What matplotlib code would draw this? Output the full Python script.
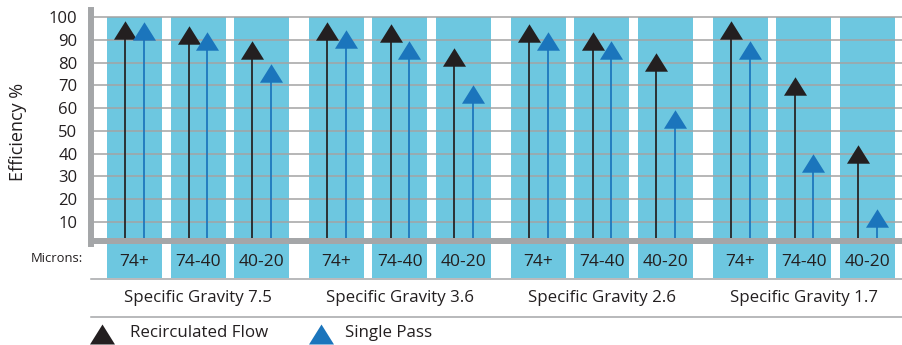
import matplotlib
matplotlib.use("Agg")
import matplotlib.pyplot as plt
from matplotlib.path import Path
from matplotlib.lines import Line2D

plt.rcParams['font.family'] = ['Open Sans', 'DejaVu Sans']

# --- data -------------------------------------------------------------
groups = ["Specific Gravity 7.5", "Specific Gravity 3.6",
          "Specific Gravity 2.6", "Specific Gravity 1.7"]
sizes = ["74+", "74-40", "40-20"]
recirculated = [94.4, 92.1, 85.6,
                94.0, 93.2, 82.5,
                93.2, 89.5, 80.2,
                94.2, 69.7, 39.9]
single_pass = [94.0, 89.5, 75.3,
               90.5, 85.4, 66.3,
               89.5, 85.4, 55.3,
               85.4, 35.8, 11.6]
yticks = [10, 20, 30, 40, 50, 60, 70, 80, 90, 100]

# --- style ------------------------------------------------------------
COL_BAND = "#6dc7e0"
COL_BLACK = "#231f20"
COL_BLUE = "#1b75bc"
COL_AXIS = "#a4a6a8"
COL_GRID = "#a3a3a3"
TXT = "#231f20"

W, H = 903, 345
fig = plt.figure(figsize=(W / 100, H / 100), dpi=100)

# axes placed in pixel terms
left_px, right_px = 90.7, 903.0
top_px, bottom_px = 10.5, 344.2
ax = fig.add_axes([left_px / W, 1 - bottom_px / H,
                   (right_px - left_px) / W, (bottom_px - top_px) / H])

group_pitch = 3.18
bar_w = 0.866
offset = 0.147

xs = []
for g in range(len(groups)):
    for c in range(len(sizes)):
        xs.append(g * group_pitch + c)

ax.set_xlim(-0.69, 12.10)
ax.set_ylim(-44, 103)

# light blue column bands, running down through the size-label row
ax.bar(xs, 115, bottom=-15, width=bar_w, color=COL_BAND, zorder=1)

# horizontal grid over the bands
ax.set_yticks(yticks)
ax.set_yticklabels([str(t) for t in yticks], fontsize=12, color=TXT)
ax.tick_params(axis='y', length=0, pad=9.5)
ax.set_xticks([])
ax.yaxis.grid(True, color=COL_GRID, lw=1.1)
ax.set_axisbelow('line')

# lollipop markers
tri = Path([(-1.0, -0.8), (1.0, -0.8), (0.0, 0.8), (-1.0, -0.8)],
           [Path.MOVETO, Path.LINETO, Path.LINETO, Path.CLOSEPOLY])

for x, r, s in zip(xs, recirculated, single_pass):
    ax.plot([x - offset, x - offset], [0, r], color=COL_BLACK, lw=1.25, zorder=2,
            solid_capstyle='butt')
    ax.plot([x + offset, x + offset], [0, s], color=COL_BLUE, lw=1.25, zorder=2,
            solid_capstyle='butt')
ax.plot([x - offset for x in xs], recirculated, ls='none', marker=tri,
        ms=16.6, color=COL_BLACK, mec='none', zorder=3)
ax.plot([x + offset for x in xs], single_pass, ls='none', marker=tri,
        ms=16.6, color=COL_BLUE, mec='none', zorder=3)

# thick base line and left axis
ax.axhspan(0, 2.6, color=COL_AXIS, lw=0, zorder=4)
for side in ['top', 'right', 'bottom']:
    ax.spines[side].set_visible(False)
ax.spines['left'].set_color(COL_AXIS)
ax.spines['left'].set_linewidth(4.3)
ax.spines['left'].set_bounds(0, 103)

# separators below the size labels and group names
ax.axhline(-15.3, color=COL_AXIS, lw=1.1, zorder=4, clip_on=False)
ax.axhline(-31.9, color=COL_AXIS, lw=1.1, zorder=4, clip_on=False)

# size labels and group names
for x, lab in zip(xs, sizes * len(groups)):
    ax.text(x, -8.0, lab, ha='center', va='center', fontsize=12.5, color=TXT)
for g, name in enumerate(groups):
    ax.text(g * group_pitch + 1, -23.6, name, ha='center', va='center',
            fontsize=12.2, color=TXT)

fig.text(83 / W, 1 - 259 / H, "Microns:", ha='right', va='center',
         fontsize=9.4, color=TXT)
fig.text(18.5 / W, 1 - 131.5 / H, "Efficiency %", ha='center', va='center',
         rotation=90, fontsize=13, color=TXT)

# legend
for px, col, lab, tx in [(102.5, COL_BLACK, "Recirculated Flow", 130),
                         (321.0, COL_BLUE, "Single Pass", 345)]:
    fig.add_artist(Line2D([px / W], [1 - 333.5 / H], transform=fig.transFigure,
                          ls='none', marker=tri, ms=18.0, color=col, mec='none'))
    fig.text(tx / W, 1 - 333 / H, lab, ha='left', va='center', fontsize=12.2,
             color=TXT)

fig.savefig("out.png", dpi=100)
